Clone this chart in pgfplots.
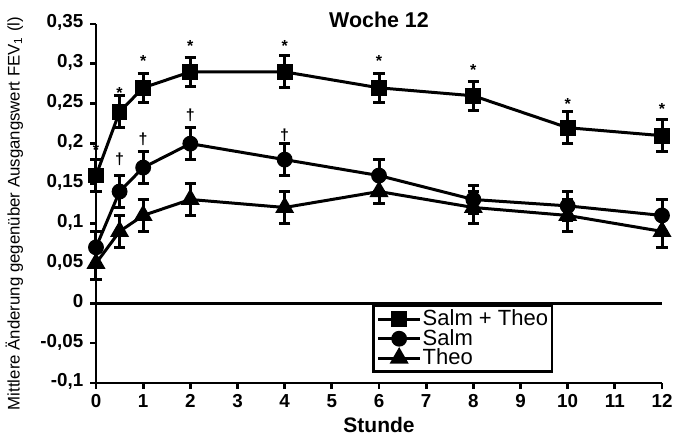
\documentclass[border=0pt]{standalone}
\usepackage{fontspec}
\setmainfont{Liberation Sans}
\usepackage{pgfplots}
\pgfplotsset{compat=1.18}

\begin{document}
\begin{tikzpicture}
\begin{axis}[
    width=283pt, height=179.5pt, scale only axis,
    xmin=0, xmax=12, ymin=-0.1, ymax=0.35,
    clip=false,
    axis lines*=left,
    axis line style={line width=1.4pt},
    xtick={0,1,2,3,4,5,6,7,8,9,10,11,12},
    ytick={-0.1,-0.05,0,0.05,0.1,0.15,0.2,0.25,0.3,0.35},
    scaled y ticks=false,
    tick align=outside,
    major tick length=2.8pt,
    tick style={line width=1.4pt, black},
    /pgf/number format/.cd, use comma, fixed, precision=2, assume math mode=true,
    /pgfplots/.cd,
    typeset ticklabels with strut,
    ticklabel style={font=\bfseries\fontsize{9.4}{10}\selectfont},
    xticklabel style={inner xsep=0pt, yshift=1pt},
    extra y ticks={0},
    extra y tick labels={},
    extra y tick style={grid=major, major grid style={black, line width=1.4pt}, major tick length=0pt},
    title={\textbf{Woche 12}},
    title style={font=\fontsize{10.7}{11}\selectfont, yshift=-11.5pt},
    xlabel={\textbf{Stunde}},
    xlabel style={font=\fontsize{10.5}{11}\selectfont, yshift=5pt},
    ylabel={Mittlere Änderung gegenüber Ausgangswert FEV\textsubscript{1} (l)},
    ylabel style={font=\fontsize{8.4}{9}\selectfont, yshift=-1pt, xshift=-5pt},
    every axis plot/.append style={line width=1.5pt, black},
    error bars/y dir=both,
    error bars/y explicit,
    error bars/error bar style={line width=1.5pt},
    error bars/error mark options={rotate=90, mark size=2.8pt, line width=1.5pt},
    legend style={at={(0.488,0.028)}, anchor=south west, draw=black, line width=1.4pt,
        font=\fontsize{11}{11}\selectfont, inner sep=1.5pt, row sep=-0.8pt,
        nodes={inner sep=0.5pt}, legend cell align=left},
    legend image code/.code={
        \draw[mark repeat=2, mark phase=2, #1, line width=1.5pt]
            plot coordinates {(0cm,0cm) (0.37cm,0cm) (0.74cm,0cm)};
    },
]
\addplot[mark=square*, mark size=3.2pt] coordinates {
    (0,0.16) +- (0,0.02)
    (0.5,0.24) +- (0,0.02)
    (1,0.27) +- (0,0.018)
    (2,0.29) +- (0,0.018)
    (4,0.29) +- (0,0.02)
    (6,0.27) +- (0,0.018)
    (8,0.26) +- (0,0.018)
    (10,0.22) +- (0,0.02)
    (12,0.21) +- (0,0.02)
};
\addplot[mark=*, mark size=3.2pt] coordinates {
    (0,0.07) +- (0,0.02)
    (0.5,0.14) +- (0,0.02)
    (1,0.17) +- (0,0.02)
    (2,0.20) +- (0,0.02)
    (4,0.18) +- (0,0.02)
    (6,0.16) +- (0,0.02)
    (8,0.13) +- (0,0.017)
    (10,0.122) +- (0,0.018)
    (12,0.11) +- (0,0.02)
};
\addplot[mark=triangle*, mark size=4pt] coordinates {
    (0,0.05) +- (0,0.02)
    (0.5,0.09) +- (0,0.02)
    (1,0.11) +- (0,0.02)
    (2,0.13) +- (0,0.02)
    (4,0.12) +- (0,0.02)
    (6,0.14) +- (0,0.015)
    (8,0.12) +- (0,0.02)
    (10,0.11) +- (0,0.02)
    (12,0.09) +- (0,0.02)
};
\legend{Salm + Theo, Salm, Theo}
% significance markers
\addplot[draw=none, mark=none, forget plot, error bars/y explicit=false, error bars/y dir=none,
    nodes near coords={\textbf{*}}, nodes near coords style={anchor=center, font=\fontsize{8}{8}\selectfont}]
    coordinates {(0,0.192) (0.5,0.264) (1,0.304) (2,0.322) (4,0.322) (6,0.304) (8,0.292) (10,0.25) (12,0.243)};
\addplot[draw=none, mark=none, forget plot, error bars/y explicit=false, error bars/y dir=none,
    nodes near coords={\textbf{†}}, nodes near coords style={anchor=center, font=\fontsize{8}{8}\selectfont}]
    coordinates {(0.5,0.18) (1,0.205) (2,0.236) (4,0.211)};
\end{axis}
\pgfresetboundingbox
\path ([xshift=-48pt, yshift=-28.5pt]current axis.south west)
    rectangle ([xshift=5.5pt, yshift=12pt]current axis.north east);
\end{tikzpicture}
\end{document}
